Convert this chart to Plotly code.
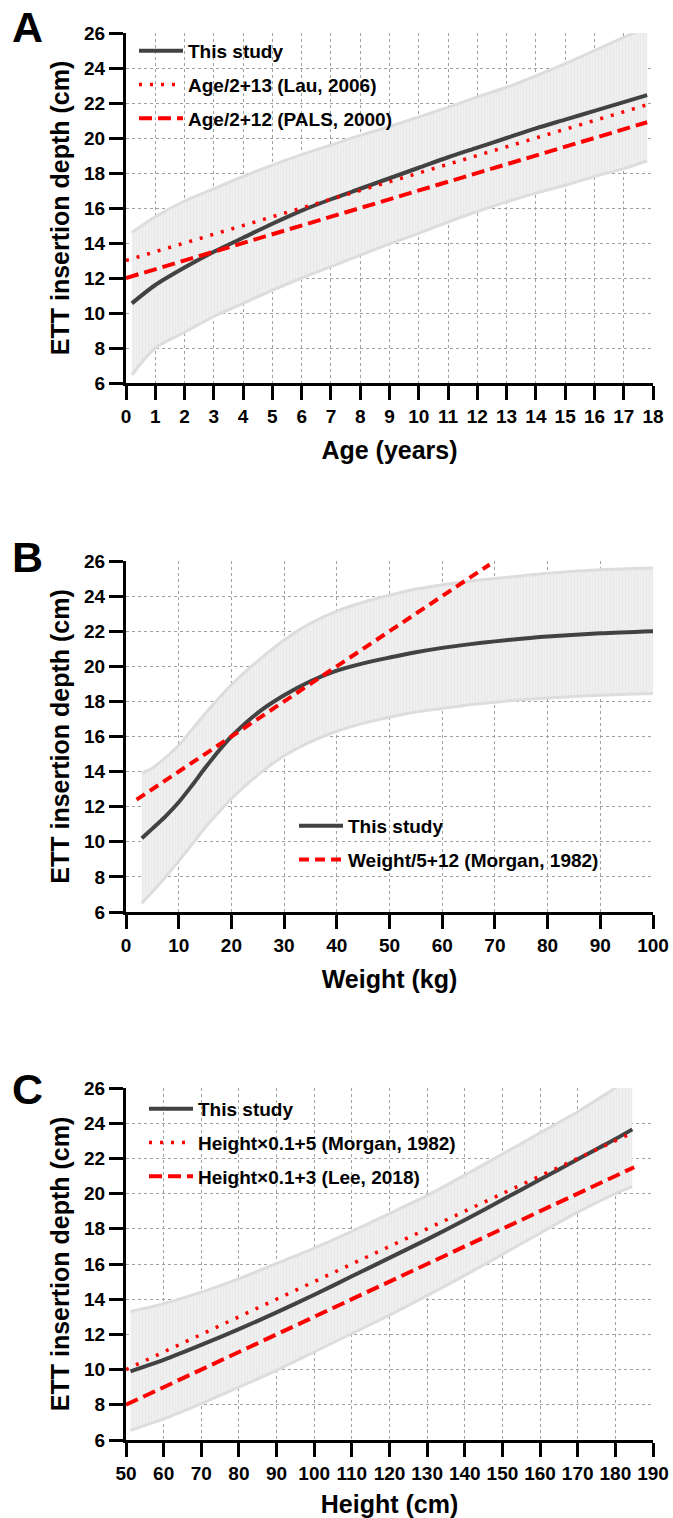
import plotly.graph_objects as go

W, H = 673, 1518

# ---------------- Panel A: Age ----------------
age = [0.2, 1, 2, 3, 4, 5, 6, 7, 8, 9, 10, 11, 12, 13, 14, 15, 16, 17, 17.8]
a_mean = [10.55, 11.6, 12.6, 13.5, 14.3, 15.1, 15.85, 16.5, 17.1, 17.7, 18.3, 18.9, 19.45, 20.0, 20.55, 21.05, 21.55, 22.05, 22.45]
a_upper = [14.6, 15.5, 16.4, 17.1, 17.8, 18.45, 19.05, 19.6, 20.15, 20.65, 21.2, 21.75, 22.35, 22.9, 23.55, 24.25, 25.0, 25.75, 26.35]
a_lower = [6.46, 8.0, 8.9, 9.8, 10.55, 11.3, 12.0, 12.65, 13.3, 13.95, 14.55, 15.2, 15.8, 16.35, 16.85, 17.3, 17.8, 18.25, 18.7]
a_lau_x = [0, 17.8]
a_lau_y = [13.0, 21.9]
a_pals_x = [0, 17.8]
a_pals_y = [12.0, 20.9]

# ---------------- Panel B: Weight ----------------
weight = [3, 5, 7.5, 10, 12.5, 15, 17.5, 20, 25, 30, 35, 40, 45, 50, 55, 60, 65, 70, 75, 80, 90, 100]
b_mean = [10.2, 10.75, 11.45, 12.25, 13.2, 14.2, 15.15, 16.0, 17.35, 18.35, 19.15, 19.75, 20.17, 20.5, 20.8, 21.05, 21.25, 21.42, 21.57, 21.7, 21.88, 22.0]
b_upper = [13.9, 14.2, 14.8, 15.5, 16.4, 17.3, 18.15, 18.95, 20.3, 21.5, 22.45, 23.15, 23.65, 24.05, 24.4, 24.65, 24.85, 25.0, 25.15, 25.3, 25.5, 25.6]
b_lower = [6.5, 7.15, 8.0, 8.9, 9.85, 10.8, 11.65, 12.45, 13.8, 14.9, 15.7, 16.3, 16.75, 17.1, 17.4, 17.6, 17.8, 17.95, 18.1, 18.2, 18.35, 18.45]
b_morgan_x = [2, 69]
b_morgan_y = [12.4, 25.8]

# ---------------- Panel C: Height ----------------
height = [51.2, 60, 70, 80, 90, 100, 110, 120, 130, 140, 150, 160, 170, 180, 184.5]
c_mean = [9.9, 10.55, 11.4, 12.3, 13.25, 14.25, 15.3, 16.35, 17.4, 18.5, 19.65, 20.8, 21.95, 23.1, 23.65]
c_upper = [13.3, 13.75, 14.4, 15.17, 16.03, 16.9, 17.85, 18.87, 19.9, 21.05, 22.25, 23.45, 24.65, 26.0, 26.6]
c_lower = [6.55, 7.2, 8.07, 9.0, 9.96, 11.0, 12.05, 13.1, 14.2, 15.35, 16.55, 17.75, 18.95, 20.0, 20.4]
c_morgan_x = [50, 185]
c_morgan_y = [10.0, 23.5]
c_lee_x = [50, 185]
c_lee_y = [8.0, 21.5]

y_ticks = list(range(6, 27, 2))
a_ticks = list(range(0, 19, 1))
b_ticks = list(range(0, 101, 10))
c_ticks = list(range(50, 191, 10))

FONT = "Liberation Sans, Arial, sans-serif"
BAND_FILL = "#ededed"
BAND_EDGE = "#dddddd"
MEAN_C = "#424242"
RED = "#ff0000"

fig = go.Figure()


def px_y(p):
    return 1 - p / H


def px_x(p):
    return p / W


def add_band(x, lo, up, xa, ya):
    fig.add_trace(go.Scatter(x=x, y=lo, mode="lines",
                             line=dict(color=BAND_EDGE, width=3, shape="spline", smoothing=0.8),
                             xaxis=xa, yaxis=ya, showlegend=False, hoverinfo="skip"))
    fig.add_trace(go.Scatter(x=x, y=up, mode="lines",
                             line=dict(color=BAND_EDGE, width=3, shape="spline", smoothing=0.8),
                             fill="tonexty", fillcolor=BAND_FILL,
                             fillpattern=dict(shape="|", bgcolor="#efefef", fgcolor="#e3e3e3", size=3, solidity=0.35),
                             xaxis=xa, yaxis=ya, showlegend=False, hoverinfo="skip"))


# Panel A
add_band(age, a_lower, a_upper, "x", "y")
fig.add_trace(go.Scatter(x=age, y=a_mean, mode="lines", name="This study",
                         line=dict(color=MEAN_C, width=4, shape="spline", smoothing=0.8),
                         xaxis="x", yaxis="y", legend="legend", legendgroup="a1"))
fig.add_trace(go.Scatter(x=a_lau_x, y=a_lau_y, mode="lines", name="Age/2+13 (Lau, 2006)",
                         line=dict(color=RED, width=3.5, dash="3px,8px"),
                         xaxis="x", yaxis="y", legend="legend", legendgroup="a2"))
fig.add_trace(go.Scatter(x=a_pals_x, y=a_pals_y, mode="lines", name="Age/2+12 (PALS, 2000)",
                         line=dict(color=RED, width=4, dash="13px,6px"),
                         xaxis="x", yaxis="y", legend="legend", legendgroup="a3"))

# Panel B
add_band(weight, b_lower, b_upper, "x2", "y2")
fig.add_trace(go.Scatter(x=weight, y=b_mean, mode="lines", name="This study",
                         line=dict(color=MEAN_C, width=4, shape="spline", smoothing=0.8),
                         xaxis="x2", yaxis="y2", legend="legend2", legendgroup="b1"))
fig.add_trace(go.Scatter(x=b_morgan_x, y=b_morgan_y, mode="lines", name="Weight/5+12 (Morgan, 1982)",
                         line=dict(color=RED, width=4, dash="10px,6px"),
                         xaxis="x2", yaxis="y2", legend="legend2", legendgroup="b2"))

# Panel C
add_band(height, c_lower, c_upper, "x3", "y3")
fig.add_trace(go.Scatter(x=height, y=c_mean, mode="lines", name="This study",
                         line=dict(color=MEAN_C, width=4, shape="spline", smoothing=0.8),
                         xaxis="x3", yaxis="y3", legend="legend3", legendgroup="c1"))
fig.add_trace(go.Scatter(x=c_morgan_x, y=c_morgan_y, mode="lines", name="Height×0.1+5 (Morgan, 1982)",
                         line=dict(color=RED, width=3.5, dash="3px,8px"),
                         xaxis="x3", yaxis="y3", legend="legend3", legendgroup="c2"))
fig.add_trace(go.Scatter(x=c_lee_x, y=c_lee_y, mode="lines", name="Height×0.1+3 (Lee, 2018)",
                         line=dict(color=RED, width=4, dash="13px,6px"),
                         xaxis="x3", yaxis="y3", legend="legend3", legendgroup="c3"))

x_dom = [px_x(126), px_x(653)]
panels = [
    (33, 383, "Age (years)", [0, 18], a_ticks),
    (561, 912, "Weight (kg)", [0, 100], b_ticks),
    (1088, 1440, "Height (cm)", [50, 190], c_ticks),
]

axis_common = dict(
    showline=True, linecolor="black", linewidth=3,
    ticks="outside", ticklen=14, tickwidth=3, tickcolor="black",
    showgrid=True, gridcolor="#a0a0a0", gridwidth=1, griddash="dot",
    zeroline=False, automargin=False,
)

layout_axes = {}
for i, (top, bot, xtitle, xr, xt) in enumerate(panels):
    sfx = "" if i == 0 else str(i + 1)
    layout_axes["xaxis" + sfx] = dict(
        axis_common, domain=x_dom, range=xr, tickvals=xt, anchor="y" + sfx, tickangle=0,
        tickfont=dict(family=FONT, size=19, color="black", weight="bold"),
        title=dict(text=xtitle, font=dict(family=FONT, size=25, color="black", weight="bold"), standoff=16),
    )
    layout_axes["yaxis" + sfx] = dict(
        axis_common, domain=[px_y(bot), px_y(top)], range=[6, 26], tickvals=y_ticks, anchor="x" + sfx,
        tickfont=dict(family=FONT, size=19, color="black", weight="bold"),
        title=dict(text="ETT insertion depth (cm)", font=dict(family=FONT, size=25, color="black", weight="bold"), standoff=8),
    )

legend_common = dict(
    font=dict(family=FONT, size=19, color="black", weight="bold"),
    bgcolor="rgba(0,0,0,0)", borderwidth=0, xanchor="left", yanchor="top",
    traceorder="grouped", tracegroupgap=6, itemwidth=44,
)

annotations = []
for letter, cy in [("A", 27), ("B", 557), ("C", 1089)]:
    annotations.append(dict(text=letter, x=px_x(27), y=px_y(cy), xref="paper", yref="paper",
                            xanchor="center", yanchor="middle", showarrow=False,
                            font=dict(family=FONT, size=43, color="black", weight="bold")))

fig.update_layout(
    width=W, height=H,
    margin=dict(l=0, r=0, t=0, b=0),
    paper_bgcolor="white", plot_bgcolor="white",
    font=dict(family=FONT, color="black"),
    legend=dict(legend_common, x=px_x(134), y=px_y(32)),
    legend2=dict(legend_common, x=px_x(294), y=px_y(807)),
    legend3=dict(legend_common, x=px_x(144), y=px_y(1090)),
    annotations=annotations,
    **layout_axes,
)

fig.write_html("out.html", config={"displayModeBar": False},
               post_script="document.body.style.margin='0px';")
